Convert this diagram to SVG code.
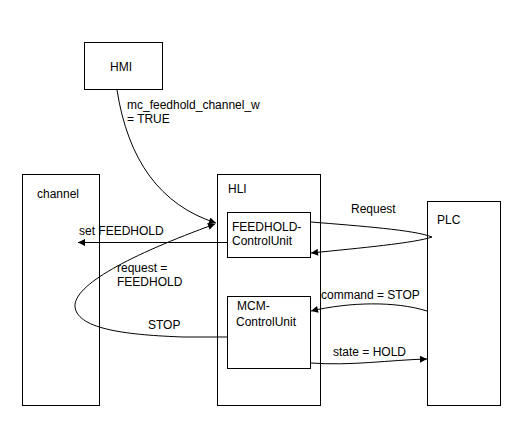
<svg xmlns="http://www.w3.org/2000/svg" width="527" height="435" viewBox="0 0 527 435">
<style>
.box{fill:#fff;stroke:#000;stroke-width:1}
.t{font-family:"Liberation Sans",Arial,sans-serif;font-size:12px;fill:#000}
.c{fill:none;stroke:#000;stroke-width:1}
</style>
<defs>
<marker id="ah" viewBox="0 0 10 10" refX="10" refY="5" markerWidth="9" markerHeight="7" markerUnits="userSpaceOnUse" orient="auto">
<path d="M0,0 L10,5 L0,10 z" fill="#000"/>
</marker>
</defs>
<rect width="527" height="435" fill="#fff"/>
<g id="hmi"><rect class="box" x="84.5" y="42.5" width="78" height="47"/><text class="t" x="110" y="71">HMI</text></g>
<g id="channel"><rect class="box" x="22.5" y="174.5" width="77" height="231"/><text class="t" x="37" y="198">channel</text></g>
<g id="hli"><rect class="box" x="217.5" y="174.5" width="103" height="231"/><text class="t" x="228" y="193">HLI</text></g>
<g id="feedhold"><rect class="box" x="227.5" y="212.5" width="83" height="45"/><text class="t" x="232" y="231">FEEDHOLD-</text><text class="t" x="232" y="245">ControlUnit</text></g>
<g id="mcm"><rect class="box" x="227.5" y="296.5" width="83" height="72"/><text class="t" x="237" y="310">MCM-</text><text class="t" x="236" y="326">ControlUnit</text></g>
<g id="plc"><rect class="box" x="427.5" y="201.5" width="73" height="204"/><text class="t" x="437" y="224">PLC</text></g>
<g id="connectors">
<path class="c" d="M117,90 C128,160 160,205 216,223" marker-end="url(#ah)"/>
<path class="c" d="M227,242.5 L78,242.5" marker-end="url(#ah)"/>
<path class="c" d="M311,222 C360,226 415,230 432,237 C415,243 360,248 311,253" marker-end="url(#ah)"/>
<path class="c" d="M427,311 C395,301 350,302 311,311" marker-end="url(#ah)"/>
<path class="c" d="M311,363 C350,366 390,360 427,359" marker-end="url(#ah)"/>
<path class="c" d="M227,337 L183,337 C130,335 78,330 75,307 C73,285 130,255 215,224" marker-end="url(#ah)"/>
</g>
<g id="labels">
<text class="t" x="127" y="109">mc_feedhold_channel_w</text>
<text class="t" x="127" y="123">= TRUE</text>
<text class="t" x="79" y="235">set FEEDHOLD</text>
<text class="t" x="117" y="272">request =</text>
<text class="t" x="117" y="286">FEEDHOLD</text>
<text class="t" x="148" y="329">STOP</text>
<text class="t" x="351" y="213">Request</text>
<text class="t" x="321" y="299">command = STOP</text>
<text class="t" x="333" y="356">state = HOLD</text>
</g>
</svg>
